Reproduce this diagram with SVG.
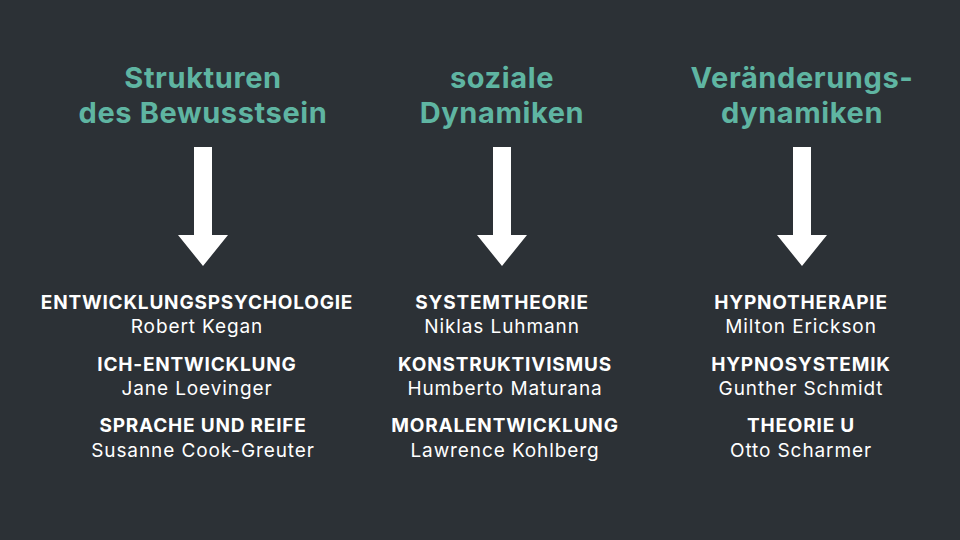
<svg xmlns="http://www.w3.org/2000/svg" width="960" height="540" viewBox="0 0 960 540">
<style>
.t{font-family:Inter,"Noto Sans",sans-serif;font-weight:700;font-size:29px;letter-spacing:0.6px;fill:#5fb5a2;text-anchor:middle}
.h{font-family:Inter,"Noto Sans",sans-serif;font-weight:700;font-size:19px;letter-spacing:0.8px;fill:#fff;text-anchor:middle}
.n{font-family:Inter,"Noto Sans",sans-serif;font-weight:400;font-size:19px;letter-spacing:0.9px;fill:#fff;text-anchor:middle}
.a{fill:#fff}
</style>
<defs><path id="arr" d="M-9,147 H9 V235 H25 L0,266 L-25,235 H-9 Z"/></defs>
<rect width="960" height="540" fill="#2c3136"/>
<g id="connectors">
<use href="#arr" class="a" x="203"/>
<use href="#arr" class="a" x="502"/>
<use href="#arr" class="a" x="802"/>
</g>
<g id="col1">
<text class="t" x="203" y="88">Strukturen</text>
<text class="t" x="203" y="123">des Bewusstsein</text>
<text class="h" x="197" y="309">ENTWICKLUNGSPSYCHOLOGIE</text>
<text class="n" x="197" y="333">Robert Kegan</text>
<text class="h" x="197" y="371">ICH-ENTWICKLUNG</text>
<text class="n" x="197" y="395">Jane Loevinger</text>
<text class="h" x="203" y="432">SPRACHE UND REIFE</text>
<text class="n" x="203" y="457">Susanne Cook-Greuter</text>
</g>
<g id="col2">
<text class="t" x="502" y="88">soziale</text>
<text class="t" x="502" y="123">Dynamiken</text>
<text class="h" x="502" y="309">SYSTEMTHEORIE</text>
<text class="n" x="502" y="333">Niklas Luhmann</text>
<text class="h" x="505" y="371">KONSTRUKTIVISMUS</text>
<text class="n" x="505" y="395">Humberto Maturana</text>
<text class="h" x="505" y="432">MORALENTWICKLUNG</text>
<text class="n" x="505" y="457">Lawrence Kohlberg</text>
</g>
<g id="col3">
<text class="t" x="802" y="88">Veränderungs-</text>
<text class="t" x="802" y="123">dynamiken</text>
<text class="h" x="801" y="309">HYPNOTHERAPIE</text>
<text class="n" x="801" y="333">Milton Erickson</text>
<text class="h" x="801" y="371">HYPNOSYSTEMIK</text>
<text class="n" x="801" y="395">Gunther Schmidt</text>
<text class="h" x="801" y="432">THEORIE U</text>
<text class="n" x="801" y="457">Otto Scharmer</text>
</g>
</svg>
